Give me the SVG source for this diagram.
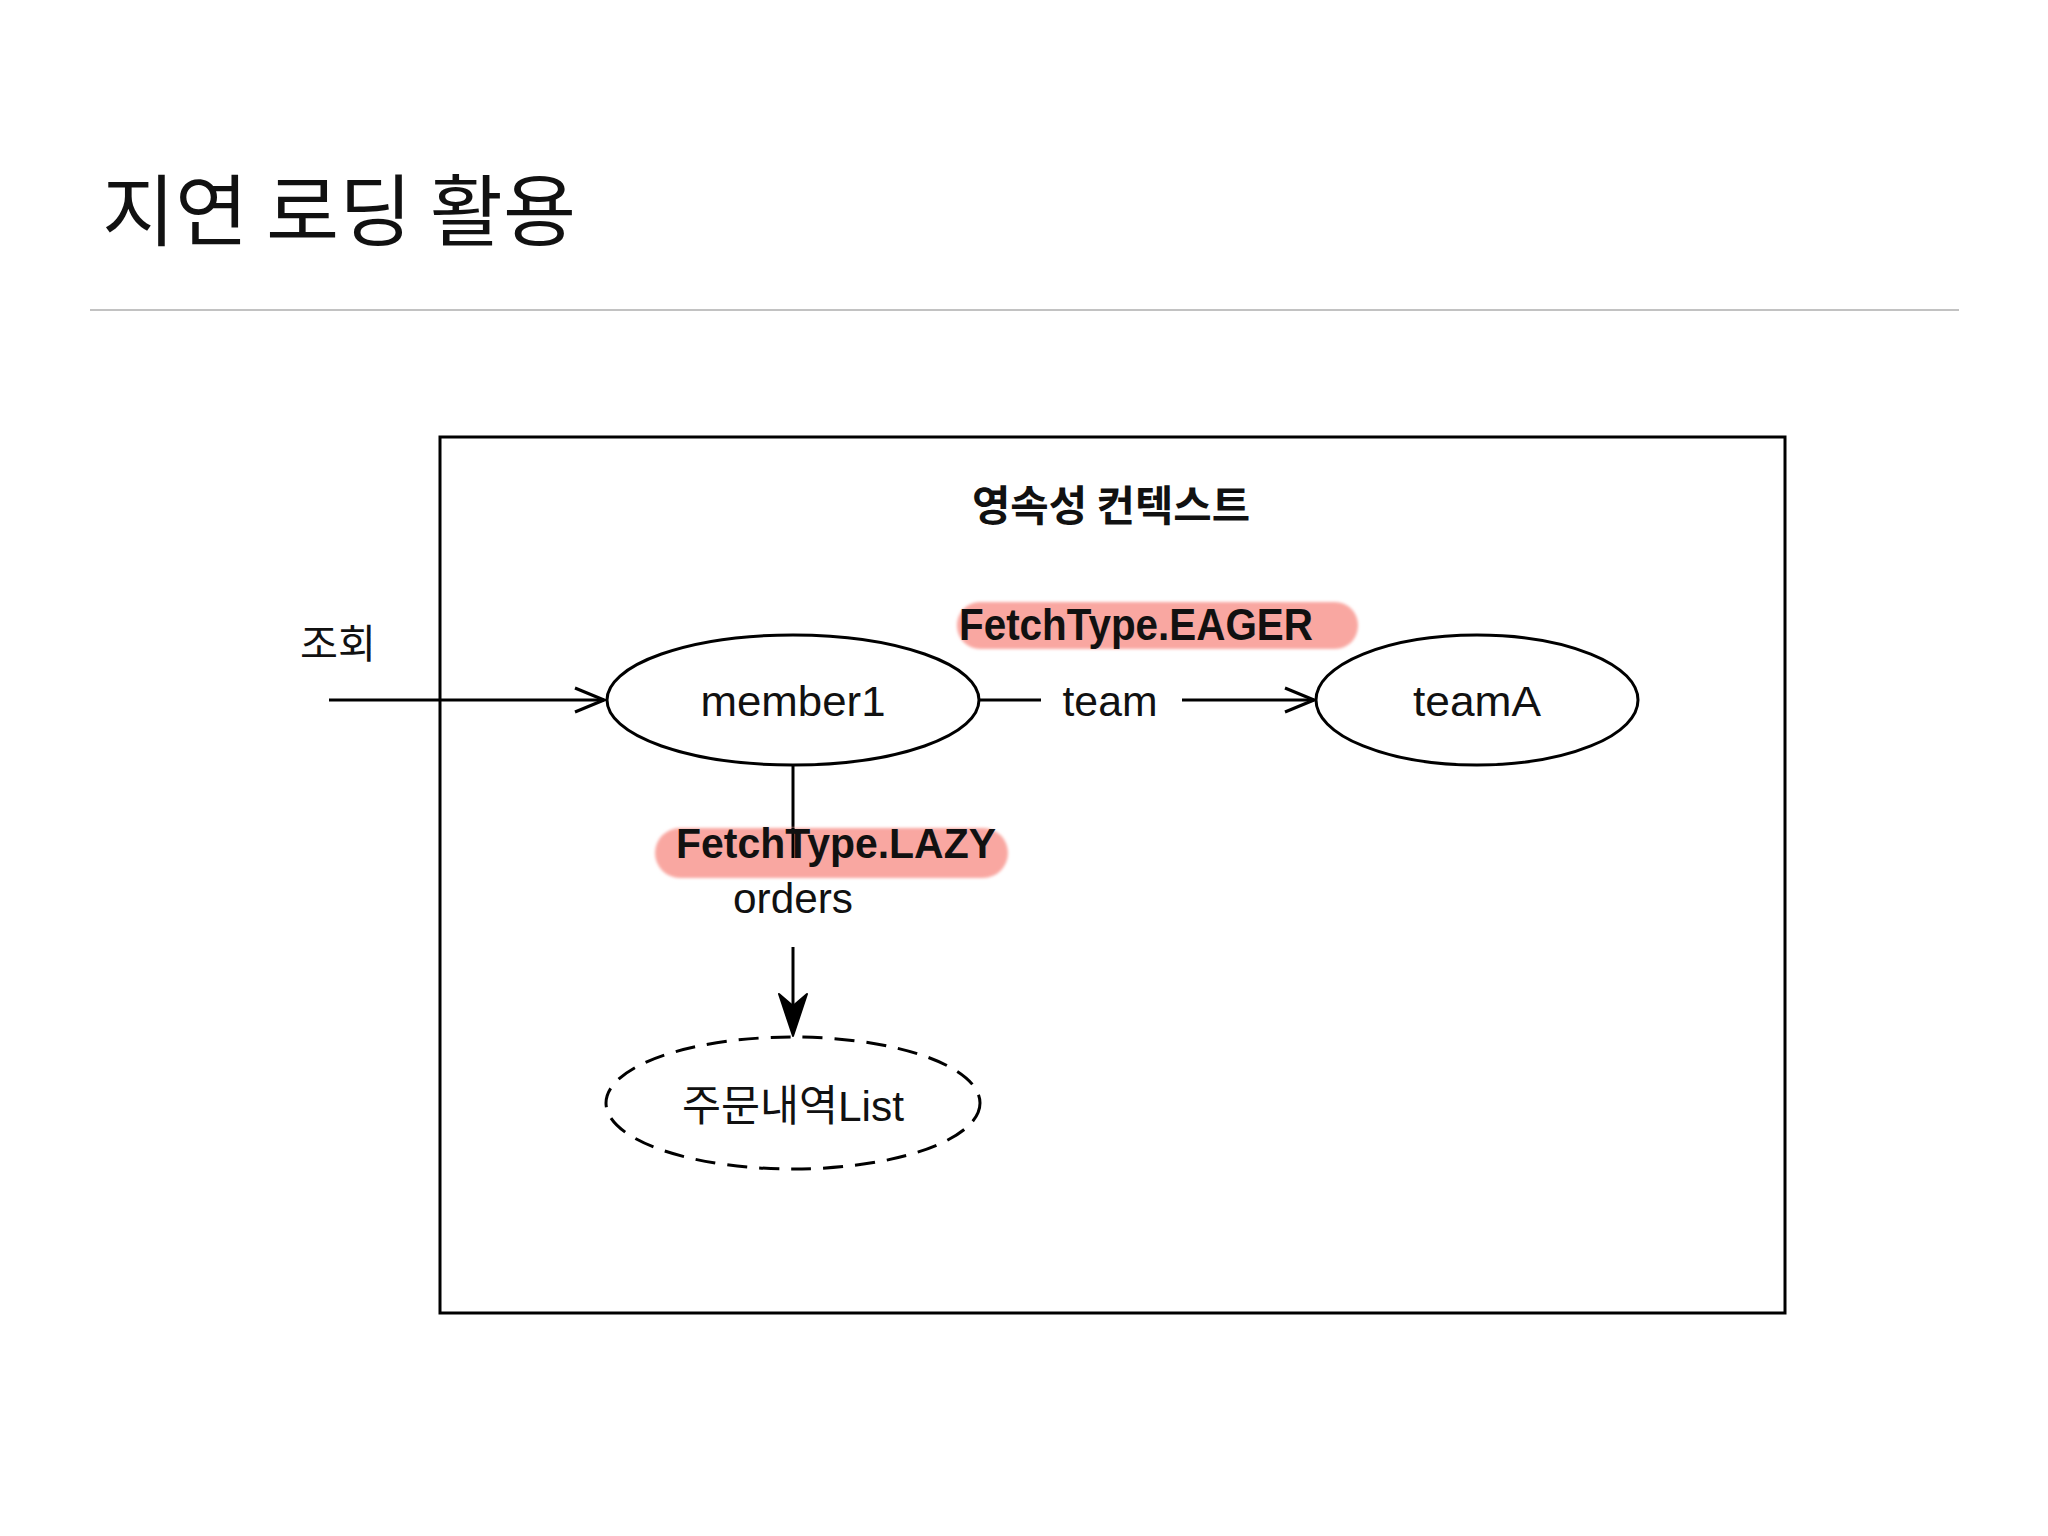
<svg xmlns="http://www.w3.org/2000/svg" width="2048" height="1536" viewBox="0 0 2048 1536">
<style>
.t{font-family:"Noto Sans CJK KR","Liberation Sans",sans-serif;fill:#111}
.l{font-family:"Liberation Sans","Noto Sans CJK KR",sans-serif;fill:#111}
.lbl{font-size:43px}
.b{font-weight:bold}
.ln{stroke:#000;stroke-width:3;fill:none}
.node{fill:#fff;stroke:#000;stroke-width:3}
.hl{fill:#f9a7a1;filter:url(#soft)}
</style>
<defs>
<filter id="soft" x="-5%" y="-20%" width="110%" height="140%"><feGaussianBlur stdDeviation="1.5"/></filter>
<marker id="open" markerWidth="34" markerHeight="28" refX="31" refY="14" orient="auto" markerUnits="userSpaceOnUse">
<path d="M2,2 L31,14 L2,26" fill="none" stroke="#000" stroke-width="3"/>
</marker>
</defs>
<rect width="2048" height="1536" fill="#fff"/>
<g id="title">
<text class="t" x="102" y="240" font-size="78" textLength="474" lengthAdjust="spacingAndGlyphs">지연 로딩 활용</text>
<line x1="90" y1="310" x2="1959" y2="310" stroke="#c2c2c2" stroke-width="2"/>
</g>
<g id="context">
<rect x="440" y="437" width="1345" height="876" fill="none" stroke="#000" stroke-width="3"/>
<text class="t b" x="1111" y="521" font-size="42" text-anchor="middle" textLength="278" lengthAdjust="spacingAndGlyphs">영속성 컨텍스트</text>
</g>
<g id="connectors">
<line class="ln" x1="329" y1="700" x2="604" y2="700" marker-end="url(#open)"/>
<line class="ln" x1="980" y1="700" x2="1041" y2="700"/>
<line class="ln" x1="1182" y1="700" x2="1314" y2="700" marker-end="url(#open)"/>
<line class="ln" x1="793" y1="765" x2="793" y2="858"/>
<line class="ln" x1="793" y1="947" x2="793" y2="1010"/>
<path d="M793,1036 L779,994 L793,1006 L807,994 Z" fill="#000" stroke="#000" stroke-width="2" stroke-linejoin="round"/>
</g>
<g id="label-query">
<text class="t" x="300" y="658" font-size="40" textLength="76" lengthAdjust="spacingAndGlyphs">조회</text>
</g>
<g id="member1">
<ellipse class="node" cx="793" cy="700" rx="186" ry="65"/>
<text class="l lbl" x="793" y="716" text-anchor="middle" textLength="185" lengthAdjust="spacingAndGlyphs">member1</text>
</g>
<g id="teamA">
<ellipse class="node" cx="1477" cy="700" rx="161" ry="65"/>
<text class="l lbl" x="1477" y="716" text-anchor="middle" textLength="128" lengthAdjust="spacingAndGlyphs">teamA</text>
</g>
<g id="orderList">
<ellipse cx="793" cy="1103" rx="187" ry="66" fill="#fff" stroke="#000" stroke-width="3" stroke-dasharray="20 12"/>
<text class="l lbl" x="793" y="1121" text-anchor="middle" textLength="222" lengthAdjust="spacingAndGlyphs">주문내역List</text>
</g>
<g id="label-team">
<rect class="hl" x="957" y="602" width="401" height="47" rx="23"/>
<text class="l b" x="959" y="640" font-size="44" textLength="354" lengthAdjust="spacingAndGlyphs">FetchType.EAGER</text>
<text class="l lbl" x="1110" y="716" text-anchor="middle" textLength="95" lengthAdjust="spacingAndGlyphs">team</text>
</g>
<g id="label-orders">
<rect class="hl" x="655" y="828" width="353" height="50" rx="25"/>
<line class="ln" x1="793" y1="828" x2="793" y2="858"/>
<text class="l b" x="676" y="858" font-size="43" textLength="320" lengthAdjust="spacingAndGlyphs">FetchType.LAZY</text>
<text class="l lbl" x="793" y="913" text-anchor="middle" textLength="120" lengthAdjust="spacingAndGlyphs">orders</text>
</g>
</svg>
